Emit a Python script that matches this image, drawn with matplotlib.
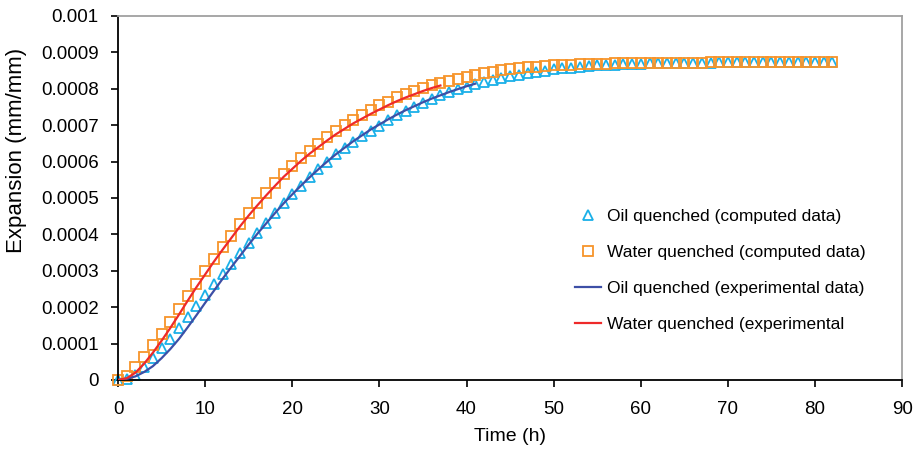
import matplotlib.pyplot as plt

plt.rcParams['font.family'] = ['Liberation Sans', 'DejaVu Sans']

# computed data, one marker per hour
time_computed = list(range(0, 83))
oil_computed = [
    0.0, 0.000003, 0.000013, 0.000035, 0.00006, 0.000087, 0.000113, 0.000142, 0.000173, 0.000203,
    0.000234, 0.000264, 0.000292, 0.00032, 0.000348, 0.000377, 0.000405, 0.000432, 0.000459, 0.000485,
    0.00051, 0.000533, 0.000557, 0.000579, 0.0006, 0.00062, 0.000637, 0.000654, 0.00067, 0.000685,
    0.000699, 0.000713, 0.000727, 0.00074, 0.000751, 0.000762, 0.000773, 0.000782, 0.000791, 0.000799,
    0.000806, 0.000813, 0.000819, 0.000825, 0.00083, 0.000835, 0.000839, 0.000843, 0.000847, 0.00085,
    0.000853, 0.000856, 0.000858, 0.00086, 0.000862, 0.000864, 0.000865, 0.000866, 0.000867, 0.000868,
    0.000869, 0.00087, 0.00087, 0.000871, 0.000871, 0.000872, 0.000872, 0.000872, 0.000872, 0.000873,
    0.000873, 0.000873, 0.000873, 0.000873, 0.000873, 0.000873, 0.000873, 0.000873, 0.000873, 0.000873,
    0.000873, 0.000873, 0.000873,
]
water_computed = [
    0.0, 0.000011, 0.000035, 0.000062, 0.000095, 0.000126, 0.000159, 0.000194, 0.00023, 0.000265,
    0.0003, 0.000333, 0.000365, 0.000396, 0.000428, 0.000458, 0.000487, 0.000515, 0.00054, 0.000565,
    0.000587, 0.000609, 0.00063, 0.000648, 0.000667, 0.000685, 0.0007, 0.000714, 0.000728, 0.000742,
    0.000755, 0.000765, 0.000777, 0.000786, 0.000795, 0.000803, 0.00081, 0.000817, 0.000822, 0.000828,
    0.000833, 0.000838, 0.000843, 0.000847, 0.000851, 0.000854, 0.000856, 0.000859, 0.000861, 0.000862,
    0.000864, 0.000865, 0.000866, 0.000867, 0.000868, 0.000869, 0.000869, 0.00087, 0.00087, 0.000871,
    0.000871, 0.000872, 0.000872, 0.000872, 0.000872, 0.000872, 0.000872, 0.000872, 0.000873, 0.000873,
    0.000873, 0.000873, 0.000873, 0.000873, 0.000873, 0.000873, 0.000873, 0.000873, 0.000873, 0.000873,
    0.000873, 0.000873, 0.000873,
]

# experimental curves
time_oil_exp = list(range(0, 42))
oil_exp = [
    0.0, 0.000003, 0.00001, 0.000022, 0.000038, 0.00006, 0.000085, 0.000113, 0.000145, 0.000178,
    0.000212, 0.000245, 0.000278, 0.00031, 0.000341, 0.000372, 0.000402, 0.00043, 0.000458, 0.000485,
    0.00051, 0.000534, 0.000557, 0.000579, 0.0006, 0.00062, 0.000638, 0.000656, 0.000672, 0.000688,
    0.000702, 0.000716, 0.000729, 0.000741, 0.000752, 0.000763, 0.000773, 0.000782, 0.000791, 0.000799,
    0.000807, 0.000814,
]
time_water_exp = list(range(0, 38))
water_exp = [
    0.0, 0.000005, 0.00002, 0.000045, 0.000075, 0.000108, 0.000143, 0.00018, 0.000218, 0.000255,
    0.00029, 0.000325, 0.000358, 0.00039, 0.000422, 0.000452, 0.00048, 0.000507, 0.000533, 0.000558,
    0.00058, 0.000602, 0.000622, 0.00064, 0.000658, 0.000675, 0.00069, 0.000705, 0.000718, 0.000731,
    0.000743, 0.000755, 0.000766, 0.000776, 0.000785, 0.000794, 0.000802, 0.000809,
]

x_ticks = [0, 10, 20, 30, 40, 50, 60, 70, 80, 90]
y_ticks = [0, 0.0001, 0.0002, 0.0003, 0.0004, 0.0005, 0.0006, 0.0007, 0.0008, 0.0009, 0.001]
y_tick_labels = ['0', '0.0001', '0.0002', '0.0003', '0.0004', '0.0005',
                 '0.0006', '0.0007', '0.0008', '0.0009', '0.001']

fig = plt.figure(figsize=(9.15, 4.49), dpi=100)
ax = fig.add_axes([0.129, 0.1537, 0.857, 0.8107])

ax.plot(time_computed, oil_computed, linestyle='none', marker='^', markersize=7.5,
        markerfacecolor='none', markeredgecolor='#1ab0e8', markeredgewidth=1.3,
        label='Oil quenched (computed data)', clip_on=False, zorder=2)
ax.plot(time_computed, water_computed, linestyle='none', marker='s', markersize=7,
        markerfacecolor='none', markeredgecolor='#f7942a', markeredgewidth=1.3,
        label='Water quenched (computed data)', clip_on=False, zorder=2)
ax.plot(time_oil_exp, oil_exp, color='#3d4fa6', linewidth=1.6,
        label='Oil quenched (experimental data)', zorder=3)
ax.plot(time_water_exp, water_exp, color='#ee2a2a', linewidth=1.6,
        label='Water quenched (experimental', zorder=3)

ax.set_xlim(0, 90)
ax.set_ylim(0, 0.001)
ax.set_xticks(x_ticks)
ax.set_yticks(y_ticks)
ax.set_yticklabels(y_tick_labels)
ax.tick_params(axis='both', direction='out', length=5, width=1.2, labelsize=13.5)
ax.tick_params(axis='y', pad=9)
ax.tick_params(axis='x', pad=10)

for side in ['left', 'bottom']:
    ax.spines[side].set_color('black')
    ax.spines[side].set_linewidth(1.3)
for side in ['top', 'right']:
    ax.spines[side].set_color('#a0a0a0')
    ax.spines[side].set_linewidth(1.3)

ax.set_xlabel('Time (h)', fontsize=14)
ax.xaxis.set_label_coords(0.5, -0.132)
ax.set_ylabel('Expansion (mm/mm)', fontsize=16)
ax.yaxis.set_label_coords(-0.116, 0.63)

ax.legend(loc='upper left', bbox_to_anchor=(575 / 915, 1 - 209 / 449),
          bbox_transform=fig.transFigure, frameon=False, fontsize=12.5,
          handlelength=1.5, handletextpad=0.35, labelspacing=1.2, borderpad=0,
          borderaxespad=0)

fig.savefig('out.png', dpi=100)
